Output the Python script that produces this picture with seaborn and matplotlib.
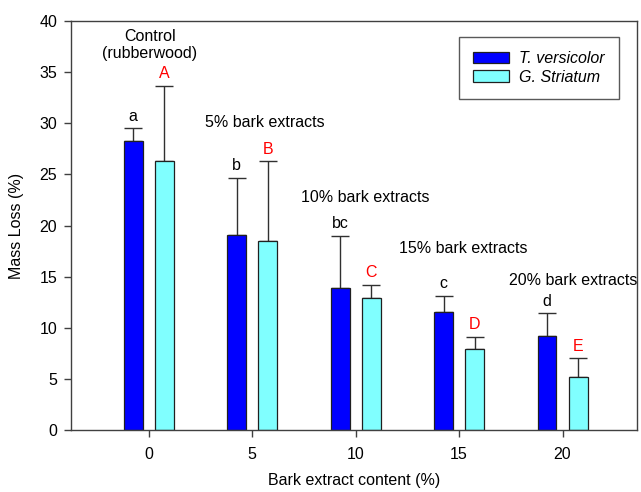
import numpy as np
import pandas as pd
import matplotlib
matplotlib.use("Agg")
import matplotlib.pyplot as plt
import seaborn as sns

# Data
content = [0, 5, 10, 15, 20]
tv_loss = [28.3, 19.1, 13.9, 11.5, 9.2]
tv_err = [1.2, 5.6, 5.1, 1.6, 2.2]
gs_loss = [26.3, 18.5, 12.9, 7.9, 5.2]
gs_err = [7.4, 7.8, 1.3, 1.2, 1.8]
tv_letters = ["a", "b", "bc", "c", "d"]
gs_letters = ["A", "B", "C", "D", "E"]
group_labels = ["Control\n(rubberwood)", "5% bark extracts", "10% bark extracts",
                "15% bark extracts", "20% bark extracts"]
species = ["T. versicolor", "G. Striatum"]

df = pd.DataFrame({
    "content": content * 2,
    "loss": tv_loss + gs_loss,
    "species": [species[0]] * 5 + [species[1]] * 5,
})

sns.set_theme(style="ticks")
plt.rcParams["font.family"] = ["Liberation Sans", "DejaVu Sans"]
plt.rcParams["font.size"] = 11.5
plt.rcParams["text.color"] = "black"
plt.rcParams["axes.labelcolor"] = "black"
plt.rcParams["xtick.labelcolor"] = "black"
plt.rcParams["ytick.labelcolor"] = "black"

fig = plt.figure(figsize=(6.41, 4.92), dpi=100)
ax = fig.add_axes([0.1108, 0.126, 0.883, 0.831])

sns.barplot(data=df, x="content", y="loss", hue="species", native_scale=True,
            width=0.6, gap=0.39, palette=["#0000FF", "#80FFFF"], saturation=1,
            edgecolor="#202020", linewidth=0.9, errorbar=None, ax=ax, zorder=2)

# error bars (upper only) + significance letters
for cont, loss, err, letters, col in zip(ax.containers, [tv_loss, gs_loss], [tv_err, gs_err],
                                        [tv_letters, gs_letters], ["black", "red"]):
    xs = [b.get_x() + b.get_width() / 2 for b in cont]
    ax.errorbar(xs, loss, yerr=[np.zeros(len(err)), err], fmt="none",
                ecolor="#303030", elinewidth=1.0, capsize=6.5, capthick=1.0, zorder=1)
    for x, l, e, t in zip(xs, loss, err, letters):
        ax.text(x, l + e + 0.75, t, ha="center", va="baseline", color=col, fontsize=11.5)

# group labels
ax.text(0.05, 37.7, group_labels[0], ha="center", va="center", linespacing=1.15)
label_pos = [(2.72, 30.1), (7.34, 22.7), (12.09, 17.8), (17.4, 14.6)]
for (x, y), t in zip(label_pos, group_labels[1:]):
    ax.text(x, y, t, ha="left", va="center")

ax.set_xlim(-3.75, 23.6)
ax.set_ylim(0, 40)
ax.set_xticks(content)
ax.set_xticklabels([str(c) for c in content])
ax.set_yticks(np.arange(0, 41, 5))
ax.set_xlabel("Bark extract content (%)", fontsize=11.5, labelpad=8.5)
ax.set_ylabel("Mass Loss (%)", fontsize=11.5, labelpad=11)
ax.tick_params(direction="out", length=5, width=1, color="#404040",
               labelsize=11.5, pad=5)
ax.tick_params(axis="x", pad=7)
for s in ax.spines.values():
    s.set_visible(True)
    s.set_color("#404040")
    s.set_linewidth(1.0)

handles = list(ax.containers[:2])
leg = ax.legend(handles, species, loc="upper right", bbox_to_anchor=(0.968, 0.961),
                borderaxespad=0, frameon=True, fancybox=False, shadow=False,
                handlelength=2.25, handleheight=0.7, handletextpad=0.6,
                labelspacing=0.2, borderpad=0.9, fontsize=11.5)
leg.get_frame().set_edgecolor("#303030")
leg.get_frame().set_linewidth(1.0)
for t in leg.get_texts():
    t.set_fontstyle("italic")

fig.savefig("out.png", dpi=100)
